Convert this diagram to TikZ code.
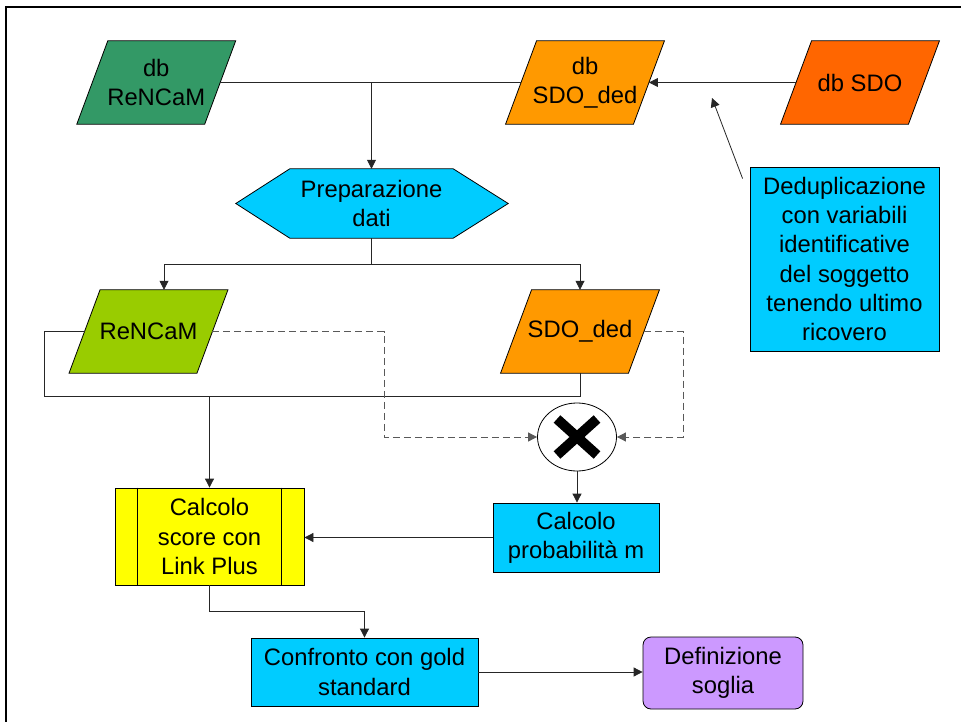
\documentclass[tikz,border=0pt]{standalone}
\usepackage{fontspec}
\setmainfont{Liberation Sans}
\usetikzlibrary{arrows.meta,shapes.geometric,backgrounds,calc}
\definecolor{cgreen}{HTML}{339966}
\definecolor{corange}{HTML}{FF9900}
\definecolor{cred}{HTML}{FF6600}
\definecolor{clime}{HTML}{99CC00}
\definecolor{ccyan}{HTML}{00CCFF}
\definecolor{cyellow}{HTML}{FFFF00}
\definecolor{cpurple}{HTML}{CC99FF}
\begin{document}
\begin{tikzpicture}[x=1pt,y=1pt,
  every node/.style={font=\fontsize{23.8}{29.3}\selectfont, align=center, inner sep=0pt},
  para/.style={minimum width=127.5pt, minimum height=83pt},
  box/.style={draw=black, line width=0.8pt, fill=ccyan},
  conn/.style={line width=0.8pt, draw=black!85},
  arr/.style={conn, -{Triangle[length=9pt,width=9pt]}},
  dsh/.style={line width=0.8pt, draw=black!65, dash pattern=on 7pt off 4pt, -{Triangle[length=9pt,width=9pt]}},
  shp/.style={draw=black, line width=0.8pt}
]
\useasboundingbox (0,0) rectangle (961,-722);
\draw[line width=2.5pt] (6,-722) -- (6,-7) -- (961,-7);

\node[para] (dbr) at (156.25,-82.5) {db\\ReNCaM};
\node[para] (dbs) at (585,-82.5) {db\\SDO\_ded};
\node[para] (sdo) at (860,-82.5) {db SDO};
\node[minimum width=163pt, minimum height=69pt] (hex) at (371.5,-203.5) {Preparazione\\dati};
\node[para] (ren) at (148.5,-331.5) {ReNCaM};
\node[para] (sded) at (580,-331.5) {SDO\_ded};
\node[box, minimum width=189pt, minimum height=184pt] (dedup) at (844.5,-259) {Deduplicazione\\con variabili\\identificative\\del soggetto\\tenendo ultimo\\ricovero};
\node[shp, ellipse, minimum width=79pt, minimum height=68pt, fill=white] (circ) at (577,-437) {};
\node[box, minimum width=166pt, minimum height=69pt] (prob) at (576,-537.5) {Calcolo\\probabilità m};
\node[shp, fill=cyellow, minimum width=189pt, minimum height=97pt] (score) at (209.5,-536.5) {Calcolo\\score con\\Link Plus};
\node[box, minimum width=227pt, minimum height=68pt] (conf) at (364.5,-672) {Confronto con gold\\standard};
\node[shp, fill=cpurple, rounded corners=8pt, minimum width=160pt, minimum height=72pt] (def) at (723,-673) {Definizione\\soglia};

\begin{scope}[on background layer]
\foreach \n/\c in {dbr/cgreen, dbs/corange, sdo/cred, ren/clime, sded/corange}{
  \filldraw[shp, fill=\c] ($(\n.north west)+(15.5,0)$) -- ($(\n.north east)+(15.5,0)$) -- ($(\n.south east)+(-15.5,0)$) -- ($(\n.south west)+(-15.5,0)$) -- cycle;
}
\filldraw[shp, fill=ccyan] (hex.north west) -- (hex.north east) -- ($(hex.east)+(55,0)$) -- (hex.south east) -- (hex.south west) -- ($(hex.west)+(-54,0)$) -- cycle;
\end{scope}

\draw[shp] ($(score.north west)+(23,0)$) -- ($(score.south west)+(23,0)$);
\draw[shp] ($(score.north east)+(-23,0)$) -- ($(score.south east)+(-23,0)$);

\draw[line width=10pt] ($(circ.center)+(-20,18)$) -- ($(circ.center)+(20,-18)$);
\draw[line width=10pt] ($(circ.center)+(-20,-18)$) -- ($(circ.center)+(20,18)$);

\draw[conn] (dbr.east) -- (dbs.west);
\draw[arr] (dbr.east -| hex.north) -- (hex.north);
\draw[arr] (sdo.west) -- (dbs.east);
\coordinate (dstart) at ($(dedup.north west)+(-7,-12)$);
\coordinate (dtip) at (712,-98);
\draw[arr] (dstart) -- (dtip);

\coordinate (j1) at ($(hex.south)+(0,-26)$);
\draw[conn] (hex.south) -- (j1);
\draw[arr] (j1) -| ([xshift=15.5pt]ren.north);
\draw[arr] (j1) -| (sded.north);

\coordinate (loopy) at ($(sded.south)+(0,-23)$);
\draw[conn] (ren.west) -- ++(-40,0) |- (loopy) -- (sded.south);
\draw[arr] (score.north |- loopy) -- (score.north);

\draw[dsh] (ren.east) -| ($(circ.west)+(-153,0)$) -- (circ.west);
\draw[dsh] (sded.east) -| ($(circ.east)+(66,0)$) -- (circ.east);

\draw[arr] (circ.south) -- (circ.south |- prob.north);
\draw[arr] (prob.west) -- (prob.west -| score.east);
\coordinate (j2) at ($(score.south)+(0,-26)$);
\draw[arr] (score.south) -- (j2) -| (conf.north);
\draw[arr] (conf.east) -- (conf.east -| def.west);
\end{tikzpicture}
\end{document}
